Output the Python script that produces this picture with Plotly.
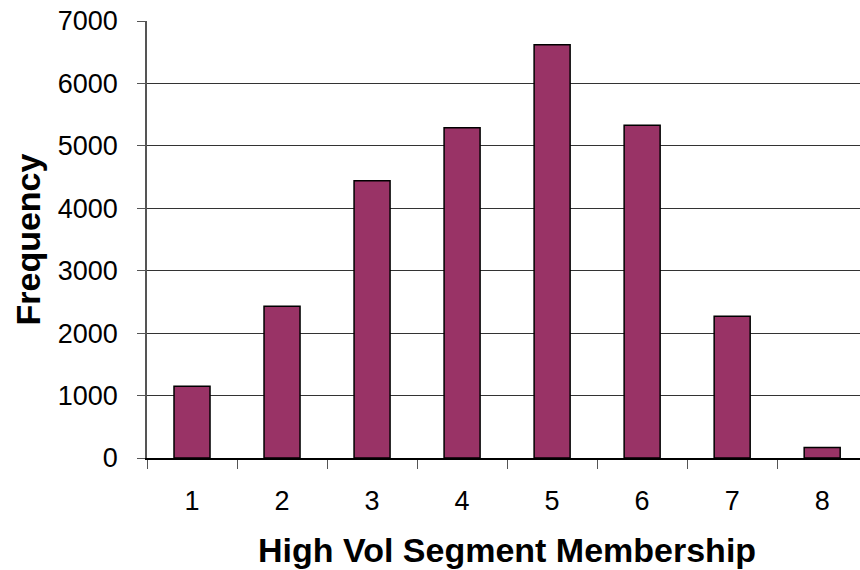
import plotly.graph_objects as go

# Frequency of segment membership counts
categories = ["1", "2", "3", "4", "5", "6", "7", "8"]
frequency = [1150, 2430, 4440, 5290, 6620, 5330, 2270, 170]
y_ticks = [0, 1000, 2000, 3000, 4000, 5000, 6000, 7000]

FONT = "Liberation Sans, Arial, sans-serif"

fig = go.Figure(
    go.Bar(
        x=categories,
        y=frequency,
        width=0.4,
        marker=dict(color="#993366", line=dict(color="#000000", width=1.5)),
    )
)

fig.update_layout(
    width=860,
    height=570,
    margin=dict(l=147, r=0, t=21, b=112, pad=0),
    paper_bgcolor="white",
    plot_bgcolor="white",
    showlegend=False,
    font=dict(family=FONT, color="black"),
)

fig.update_xaxes(
    type="category",
    range=[-0.5, 7.42],
    tickson="boundaries",
    ticks="outside",
    ticklen=9,
    tickcolor="#555555",
    tickwidth=1,
    showline=True,
    linecolor="black",
    linewidth=1.5,
    showgrid=False,
    tickfont=dict(family=FONT, size=27),
    ticklabelstandoff=18,
)

fig.update_yaxes(
    range=[0, 7000],
    tickvals=y_ticks,
    ticktext=[str(v) for v in y_ticks],
    ticks="outside",
    ticklen=8,
    tickcolor="#555555",
    tickwidth=1,
    showline=True,
    linecolor="#555555",
    linewidth=1.5,
    showgrid=True,
    gridcolor="#333333",
    gridwidth=1,
    zeroline=False,
    tickfont=dict(family=FONT, size=27),
    ticklabelstandoff=14,
)

# Axis titles
fig.add_annotation(
    text="<b>High Vol Segment Membership</b>",
    xref="paper", yref="paper",
    x=0.505, y=0, yshift=-92,
    xanchor="center", yanchor="middle",
    showarrow=False,
    font=dict(family=FONT, size=34, color="black"),
)
fig.add_annotation(
    text="<b>Frequency</b>",
    xref="paper", yref="paper",
    x=0, xshift=-120, y=0.5,
    xanchor="center", yanchor="middle",
    textangle=-90,
    showarrow=False,
    font=dict(family=FONT, size=34, color="black"),
)

fig.write_html("out.html")
